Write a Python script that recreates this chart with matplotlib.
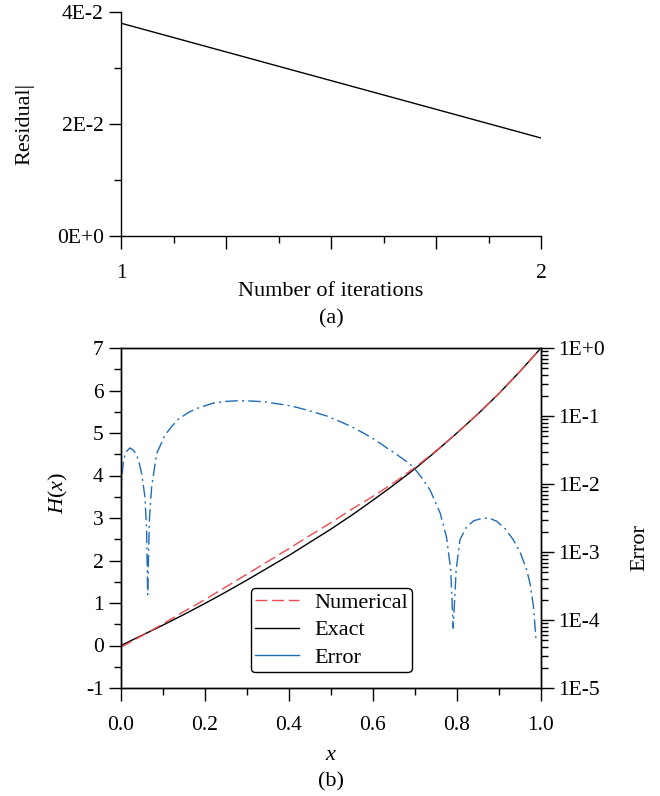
import numpy as np
import matplotlib
matplotlib.use('Agg')
from matplotlib import pyplot as plt
from matplotlib.lines import Line2D
from matplotlib.ticker import FixedLocator, MultipleLocator, LogLocator, FuncFormatter, NullFormatter

plt.rcParams['font.family'] = ['Liberation Serif', 'DejaVu Serif']
plt.rcParams['mathtext.fontset'] = 'custom'
plt.rcParams['mathtext.rm'] = 'Liberation Serif'
plt.rcParams['mathtext.it'] = 'Liberation Serif:italic'
plt.rcParams['axes.unicode_minus'] = False
plt.rcParams['font.size'] = 15.5

# (a) residual vs iterations
iterations = [1, 2]
residual = [0.038, 0.0175]
res_ticks = [0.0, 0.02, 0.04]
res_labels = ['0E+0', '2E-2', '4E-2']

# (b) H(x), numerical vs exact
x_h = [0.0, 0.05, 0.1, 0.15, 0.2, 0.25, 0.3, 0.35, 0.4, 0.45, 0.5,
       0.55, 0.6, 0.65, 0.7, 0.75, 0.8, 0.85, 0.9, 0.95, 1.0]
h_exact = [0.0, 0.24, 0.48, 0.73, 0.99, 1.26, 1.54, 1.83, 2.12, 2.43, 2.74,
           3.07, 3.42, 3.78, 4.16, 4.57, 5.00, 5.45, 5.93, 6.45, 7.0]
h_num = [-0.04, 0.23, 0.51, 0.80, 1.08, 1.38, 1.68, 1.98, 2.28, 2.59, 2.89,
         3.21, 3.51, 3.83, 4.19, 4.58, 5.00, 5.45, 5.93, 6.45, 7.0]

# error curve, log10 values
x_err = [0.0, 0.002, 0.006, 0.012, 0.021, 0.029, 0.037, 0.043, 0.049, 0.057,
         0.061, 0.0635, 0.0675, 0.073, 0.085, 0.105, 0.12, 0.136, 0.16, 0.18,
         0.22, 0.25, 0.283, 0.31, 0.339, 0.394, 0.42, 0.458, 0.49, 0.521,
         0.55, 0.577, 0.605, 0.633, 0.655, 0.68, 0.696, 0.715, 0.736, 0.76,
         0.775, 0.785, 0.791, 0.798, 0.807, 0.823, 0.84, 0.863, 0.88, 0.895,
         0.915, 0.934, 0.95, 0.966, 0.975, 0.982, 0.988]
log_err = [-2.19, -1.9, -1.65, -1.53, -1.47, -1.5, -1.57, -1.68, -1.84, -2.19,
           -2.68, -3.63, -2.53, -2.04, -1.55, -1.28, -1.16, -1.05, -0.95, -0.89,
           -0.81, -0.785, -0.775, -0.78, -0.79, -0.84, -0.875, -0.94, -1.0, -1.08,
           -1.16, -1.25, -1.35, -1.47, -1.56, -1.67, -1.75, -1.9, -2.09, -2.43,
           -2.78, -3.26, -4.12, -3.26, -2.82, -2.63, -2.54, -2.50, -2.51, -2.55,
           -2.66, -2.82, -3.0, -3.26, -3.5, -3.80, -4.27]

red = '#f04a50'
blue = '#1f6db8'

fig = plt.figure(figsize=(6.6, 7.96), dpi=100)

# ---- panel (a)
ax1 = fig.add_axes([121/660, 1-236/796, 420/660, 224/796])
ax1.plot(iterations, residual, color='k', lw=1.0)
ax1.set_xlim(1, 2)
ax1.set_ylim(0, 0.04)
ax1.spines['top'].set_visible(False)
ax1.spines['right'].set_visible(False)
ax1.xaxis.set_major_locator(FixedLocator([1, 1.25, 1.5, 1.75, 2]))
ax1.xaxis.set_major_formatter(FuncFormatter(lambda v, p: '%d' % v if v in (1, 2) else ''))
ax1.xaxis.set_minor_locator(MultipleLocator(0.125))
ax1.yaxis.set_major_locator(FixedLocator(res_ticks))
ax1.set_yticklabels(res_labels)
ax1.yaxis.set_minor_locator(MultipleLocator(0.01))
ax1.tick_params(which='major', direction='out', length=9, width=1)
ax1.tick_params(which='minor', direction='out', length=5, width=1)
ax1.tick_params(axis='x', which='major', pad=11.5)
ax1.set_ylabel('Residual|', fontsize=16)
ax1.yaxis.set_label_coords(-0.229, 0.5)
ax1.yaxis.label.set_va('center')
fig.text(331/660, 1-292/796, 'Number of iterations', ha='center', va='center', fontsize=16)
fig.text(331/660, 1-319/796, '(a)', ha='center', va='center', fontsize=16)

# ---- panel (b)
ax = fig.add_axes([121/660, 1-688/796, 420/660, 340/796])
ax.plot(x_h, h_exact, color='k', lw=1.0, zorder=2)
ax.plot(x_h, h_num, color=red, lw=1.0, dashes=(8.5, 3.5), zorder=3)
ax.set_xlim(0, 1)
ax.set_ylim(-1, 7)
ax.xaxis.set_major_locator(MultipleLocator(0.2))
ax.xaxis.set_minor_locator(MultipleLocator(0.1))
ax.xaxis.set_major_formatter(FuncFormatter(lambda v, p: '%.1f' % v))
ax.yaxis.set_major_locator(MultipleLocator(1))
ax.yaxis.set_minor_locator(MultipleLocator(0.5))
ax.tick_params(which='major', direction='out', length=9, width=1)
ax.tick_params(which='minor', direction='out', length=5, width=1)
ax.tick_params(axis='x', which='major', pad=11.5)
ax.set_ylabel('$H(x)$', fontsize=16)
ax.yaxis.set_label_coords(-0.15, 0.5735)
ax.yaxis.label.set_va('center')
fig.text(331/660, 1-755/796, '$x$', ha='center', va='center', fontsize=16)
fig.text(331/660, 1-782/796, '(b)', ha='center', va='center', fontsize=16)

ax2 = ax.twinx()
ax2.semilogy(x_err, 10**np.array(log_err), color=blue, lw=1.0, dashes=(9, 3, 1.5, 3))
ax2.set_ylim(1e-5, 1)
ax2.yaxis.set_major_locator(LogLocator(base=10, numticks=10))
ax2.yaxis.set_minor_locator(LogLocator(base=10, subs=np.arange(2, 10), numticks=10))
ax2.yaxis.set_minor_formatter(NullFormatter())
ax2.yaxis.set_major_formatter(FuncFormatter(lambda v, p: '1E%+d' % int(round(np.log10(v)))))
ax2.tick_params(which='major', direction='out', length=9, width=1)
ax2.tick_params(which='minor', direction='out', length=5, width=1)
ax2.set_ylabel('Error', fontsize=16)
ax2.yaxis.set_label_coords(1.235, 0.412)
ax2.yaxis.label.set_va('center')

handles = [Line2D([], [], color=red, lw=1.0, dashes=(8.5, 3.5)),
           Line2D([], [], color='k', lw=1.0),
           Line2D([], [], color=blue, lw=1.0)]
leg = ax2.legend(handles, ['Numerical', 'Exact', 'Error'], loc='lower left',
                 bbox_to_anchor=(0.3095, 0.047), borderaxespad=0, fontsize=16,
                 handlelength=2.0, handletextpad=0.65, labelspacing=0.32,
                 borderpad=0.18, fancybox=True, framealpha=1, edgecolor='k')
leg.get_frame().set_linewidth(1.0)

for a in (ax1, ax, ax2):
    for s in a.spines.values():
        s.set_linewidth(1.0)

fig.savefig('out.png', dpi=100)
